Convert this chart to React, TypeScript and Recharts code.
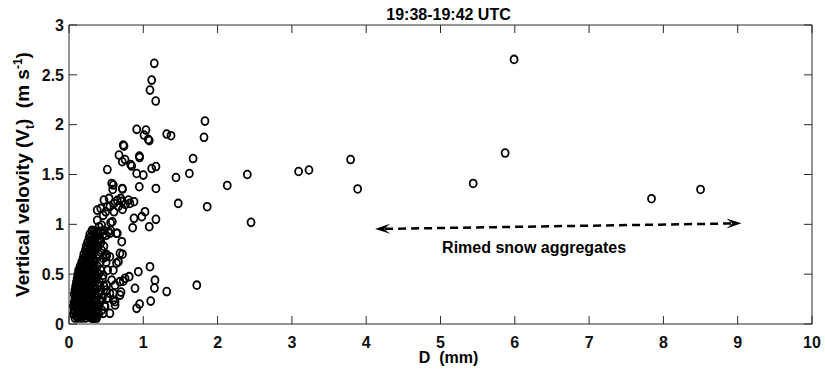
import React from 'react';
import {
  ReferenceDot,
  ReferenceLine,
  Scatter,
  ScatterChart,
  XAxis,
  YAxis,
} from 'recharts';

type Pt = [number, number];

const X_TICKS = [0, 1, 2, 3, 4, 5, 6, 7, 8, 9, 10];
const Y_TICKS = [0, 0.5, 1, 1.5, 2, 2.5, 3];

// large, isolated particles (rimed aggregates)
const outerPoints: Pt[] = [
  [2.13, 1.39], [2.4, 1.5], [2.45, 1.02], [3.09, 1.53], [3.23, 1.545],
  [3.79, 1.65], [3.885, 1.355], [5.44, 1.41], [5.87, 1.715], [5.99, 2.655],
  [7.84, 1.257], [8.5, 1.35],
];

// 0.7 - 2 mm
const midPoints: Pt[] = [
  [1.148, 2.615], [1.113, 2.447], [1.09, 2.347], [1.167, 2.237], [1.83, 2.036],
  [1.817, 1.873], [0.911, 1.953], [1.036, 1.946], [1.01, 1.896], [1.067, 1.852],
  [1.08, 1.84], [1.315, 1.906], [1.373, 1.889], [0.74, 1.785], [0.73, 1.795],
  [1.67, 1.66], [0.754, 1.65], [0.947, 1.685], [0.95, 1.67], [0.844, 1.585],
  [0.83, 1.6], [0.911, 1.51], [1.0, 1.494], [1.113, 1.56], [1.17, 1.58],
  [1.44, 1.47], [1.62, 1.51], [1.17, 1.36], [0.946, 1.377], [1.47, 1.21],
  [1.86, 1.177], [0.72, 1.354], [0.71, 1.23], [0.76, 1.2], [0.82, 1.21],
  [1.023, 1.127], [0.875, 1.06], [1.17, 1.05], [1.08, 0.976], [0.857, 0.966],
  [0.98, 1.077], [0.71, 0.826], [0.72, 0.7], [1.09, 0.575], [0.933, 0.525],
  [0.81, 0.475], [0.73, 0.43], [1.157, 0.44], [1.15, 0.36], [0.888, 0.358],
  [1.315, 0.325], [1.72, 0.39], [0.7, 0.32], [1.1, 0.23], [0.95, 0.2],
  [0.91, 0.157], [0.754, 0.458], [0.686, 0.425], [0.62, 0.39], [0.8, 1.244],
  [0.875, 1.227],
];

// 0.35 - 0.75 mm, ring region around the core
const ringPoints: Pt[] = [
  [0.673, 1.695], [0.717, 1.628], [0.516, 1.55], [0.575, 1.41], [0.588, 1.35],
  [0.596, 1.394], [0.717, 1.36], [0.47, 1.244], [0.54, 1.26], [0.65, 1.24],
  [0.695, 1.26], [0.38, 1.143], [0.427, 1.16], [0.515, 1.176], [0.494, 1.126],
  [0.606, 1.126], [0.583, 1.026], [0.38, 1.04], [0.404, 0.976], [0.55, 1.18],
  [0.606, 1.21], [0.665, 1.18], [0.72, 1.15], [0.46, 1.09], [0.44, 0.99],
  [0.56, 1.016], [0.53, 0.926], [0.65, 0.91], [0.55, 0.91], [0.64, 0.91],
  [0.5, 0.89], [0.686, 0.71], [0.64, 0.61], [0.596, 0.54], [0.507, 0.69],
  [0.55, 0.675], [0.5, 0.675], [0.665, 0.625], [0.395, 0.775], [0.417, 0.84],
  [0.37, 0.926], [0.55, 0.308], [0.596, 0.24], [0.55, 0.107], [0.62, 0.224],
  [0.62, 0.19], [0.686, 0.29], [0.596, 0.308], [0.507, 0.39], [0.575, 0.44],
  [0.46, 0.49], [0.417, 0.24], [0.485, 0.174], [0.46, 0.107], [0.37, 0.057],
  [0.327, 0.057], [0.372, 0.073], [0.336, 0.93], [0.31, 0.94], [0.47, 0.94],
  [0.56, 0.94],
];

// dense core, one row per velocity level
const coreRows: { v: number; d: number[] }[] = [
  { v: 0.06, d: [0.08, 0.12, 0.17, 0.22, 0.3, 0.35] },
  { v: 0.1, d: [0.06, 0.1, 0.14, 0.19, 0.24, 0.29, 0.33, 0.4] },
  { v: 0.14, d: [0.07, 0.11, 0.15, 0.2, 0.26, 0.31, 0.36, 0.44] },
  { v: 0.18, d: [0.06, 0.09, 0.13, 0.17, 0.22, 0.27, 0.33, 0.39, 0.48] },
  { v: 0.22, d: [0.07, 0.11, 0.15, 0.19, 0.24, 0.29, 0.35, 0.42] },
  { v: 0.26, d: [0.08, 0.12, 0.16, 0.21, 0.26, 0.31, 0.37, 0.45, 0.52] },
  { v: 0.3, d: [0.07, 0.1, 0.14, 0.18, 0.23, 0.28, 0.34, 0.4] },
  { v: 0.34, d: [0.08, 0.12, 0.16, 0.2, 0.25, 0.3, 0.36, 0.43, 0.5] },
  { v: 0.38, d: [0.09, 0.13, 0.17, 0.22, 0.27, 0.33, 0.39, 0.47] },
  { v: 0.42, d: [0.1, 0.14, 0.18, 0.23, 0.28, 0.35, 0.41] },
  { v: 0.46, d: [0.11, 0.15, 0.19, 0.24, 0.3, 0.37, 0.45] },
  { v: 0.5, d: [0.12, 0.16, 0.21, 0.26, 0.32, 0.4] },
  { v: 0.54, d: [0.13, 0.17, 0.22, 0.28, 0.35, 0.43, 0.52] },
  { v: 0.58, d: [0.15, 0.19, 0.25, 0.31, 0.38] },
  { v: 0.62, d: [0.17, 0.22, 0.28, 0.34, 0.42, 0.5] },
  { v: 0.66, d: [0.19, 0.24, 0.3, 0.37, 0.46] },
  { v: 0.7, d: [0.2, 0.26, 0.33, 0.4, 0.5] },
  { v: 0.74, d: [0.22, 0.28, 0.35, 0.44] },
  { v: 0.78, d: [0.23, 0.29, 0.37, 0.47] },
  { v: 0.82, d: [0.25, 0.31, 0.39, 0.43] },
  { v: 0.86, d: [0.27, 0.33, 0.41] },
  { v: 0.9, d: [0.28, 0.34, 0.4, 0.46] },
  { v: 0.93, d: [0.31, 0.37, 0.43] },
];

// in-between levels where the core is solid black
const coreFillRows: { v: number; d: number[] }[] = [
  { v: 0.08, d: [0.1, 0.15, 0.2, 0.26, 0.32] },
  { v: 0.12, d: [0.08, 0.12, 0.17, 0.22, 0.27, 0.31] },
  { v: 0.16, d: [0.09, 0.13, 0.18, 0.23, 0.28, 0.34] },
  { v: 0.2, d: [0.08, 0.11, 0.15, 0.2, 0.25, 0.31] },
  { v: 0.24, d: [0.09, 0.13, 0.17, 0.22, 0.27, 0.33] },
  { v: 0.28, d: [0.09, 0.12, 0.16, 0.2, 0.25, 0.3] },
  { v: 0.32, d: [0.09, 0.13, 0.18, 0.22, 0.27, 0.32] },
  { v: 0.36, d: [0.1, 0.14, 0.19, 0.24, 0.29, 0.34] },
  { v: 0.4, d: [0.11, 0.16, 0.2, 0.25, 0.31] },
  { v: 0.44, d: [0.12, 0.17, 0.21, 0.26, 0.32] },
  { v: 0.48, d: [0.13, 0.18, 0.23, 0.28, 0.34] },
  { v: 0.52, d: [0.14, 0.19, 0.24, 0.3] },
  { v: 0.56, d: [0.16, 0.21, 0.27, 0.33] },
  { v: 0.6, d: [0.18, 0.23, 0.29] },
  { v: 0.64, d: [0.2, 0.26, 0.32] },
  { v: 0.68, d: [0.22, 0.28] },
  { v: 0.72, d: [0.24, 0.3] },
  { v: 0.76, d: [0.25, 0.32] },
  { v: 0.8, d: [0.27, 0.33] },
  { v: 0.84, d: [0.29, 0.35] },
  { v: 0.88, d: [0.3, 0.36] },
];

// annotation arrow ends (mm, m/s)
const arrowStart = { x: 4.12, y: 0.953 };
const arrowEnd = { x: 9.05, y: 1.01 };

const INK = '#000';
const AXIS = '#2a2a2a';
const FONT = 'Arial, "Liberation Sans", Helvetica, sans-serif';

const points = [
  ...[...coreRows, ...coreFillRows].flatMap((row) => row.d.map((d) => ({ d, v: row.v }))),
  ...ringPoints.map(([d, v]) => ({ d, v })),
  ...midPoints.map(([d, v]) => ({ d, v })),
  ...outerPoints.map(([d, v]) => ({ d, v })),
];

function Ring(props: any) {
  const { cx, cy } = props;
  if (cx == null || cy == null) return null;
  return (
    <ellipse cx={cx} cy={cy} rx={3.5} ry={3.9} fill="none" stroke={INK} strokeWidth={1.8} />
  );
}

function arrowHead(tx: number, ty: number, ux: number, uy: number) {
  // ux, uy: unit vector pointing back from the tip
  const len = 15;
  const half = 5;
  const nx = -uy;
  const ny = ux;
  const bx = tx + ux * len;
  const by = ty + uy * len;
  const mx = tx + ux * len * 0.6;
  const my = ty + uy * len * 0.6;
  return `M${tx},${ty} L${bx + nx * half},${by + ny * half} L${mx},${my} L${bx - nx * half},${by - ny * half} Z`;
}

function DashedArrow(props: any) {
  const { x1, y1, x2, y2 } = props;
  if ([x1, y1, x2, y2].some((n) => n == null)) return null;
  const dx = x2 - x1;
  const dy = y2 - y1;
  const l = Math.hypot(dx, dy);
  const ux = dx / l;
  const uy = dy / l;
  return (
    <g>
      <line
        x1={x1 + ux * 10}
        y1={y1 + uy * 10}
        x2={x2 - ux * 10}
        y2={y2 - uy * 10}
        stroke={INK}
        strokeWidth={2.5}
        strokeDasharray="8 5"
      />
      <path d={arrowHead(x1, y1, ux, uy)} fill={INK} />
      <path d={arrowHead(x2, y2, -ux, -uy)} fill={INK} />
    </g>
  );
}

function TitleLabel({ viewBox }: any) {
  const x = viewBox.x + viewBox.width / 2 + 8;
  return (
    <text x={x} y={20} textAnchor="middle" fontFamily={FONT} fontSize={16} fontWeight="bold" fill={INK}>
      19:38-19:42 UTC
    </text>
  );
}

function XTitle({ viewBox }: any) {
  const x = viewBox.x + viewBox.width / 2 + 8;
  return (
    <text
      x={x}
      y={363}
      textAnchor="middle"
      fontFamily={FONT}
      fontSize={16}
      fontWeight="bold"
      fill={INK}
      style={{ whiteSpace: 'pre' }}
    >
      D  (mm)
    </text>
  );
}

function YTitle({ viewBox }: any) {
  const cy = viewBox.y + viewBox.height / 2;
  const x = 29;
  return (
    <text
      x={x}
      y={cy}
      transform={`rotate(-90, ${x}, ${cy})`}
      textAnchor="middle"
      fontFamily={FONT}
      fontSize={19}
      fontWeight="bold"
      fill={INK}
      style={{ whiteSpace: 'pre' }}
    >
      Vertical velovity (V
      <tspan dy={5} fontSize={12}>t</tspan>
      <tspan dy={-5}>)  (m s</tspan>
      <tspan dy={-7} fontSize={12}>-1</tspan>
      <tspan dy={7}>)</tspan>
    </text>
  );
}

export default function App() {
  const tickStyle = { fontSize: 16, fontWeight: 'bold', fill: '#111', fontFamily: FONT };
  return (
    <div style={{ position: 'absolute', left: 0, top: 0, width: 825, height: 377, background: '#fff' }}>
      <ScatterChart width={825} height={377} margin={{ top: 24, right: 12, bottom: 0, left: 0 }}>
        <XAxis
          type="number"
          dataKey="d"
          domain={[0, 10]}
          ticks={X_TICKS}
          interval={0}
          height={53}
          tickSize={-8}
          tickMargin={21}
          axisLine={{ stroke: AXIS }}
          tickLine={{ stroke: AXIS }}
          tick={tickStyle}
          label={<XTitle />}
        />
        <XAxis
          xAxisId="top"
          orientation="top"
          type="number"
          dataKey="d"
          domain={[0, 10]}
          ticks={X_TICKS}
          interval={0}
          height={1}
          tickSize={-8}
          tickFormatter={() => ''}
          axisLine={{ stroke: AXIS }}
          tickLine={{ stroke: AXIS }}
          label={<TitleLabel />}
        />
        <YAxis
          type="number"
          dataKey="v"
          domain={[0, 3]}
          ticks={Y_TICKS}
          interval={0}
          width={69}
          tickSize={-8}
          tickMargin={13}
          axisLine={{ stroke: AXIS }}
          tickLine={{ stroke: AXIS }}
          tick={tickStyle}
          label={<YTitle />}
        />
        <YAxis
          yAxisId="right"
          orientation="right"
          type="number"
          dataKey="v"
          domain={[0, 3]}
          ticks={Y_TICKS}
          interval={0}
          width={1}
          tickSize={-8}
          tickFormatter={() => ''}
          axisLine={{ stroke: AXIS }}
          tickLine={{ stroke: AXIS }}
        />
        <Scatter data={points} shape={<Ring />} isAnimationActive={false} />
        <Scatter
          xAxisId="top"
          yAxisId="right"
          data={points.slice(0, 1)}
          shape={() => <g />}
          isAnimationActive={false}
        />
        <ReferenceLine
          segment={[arrowStart, arrowEnd]}
          shape={<DashedArrow />}
          ifOverflow="visible"
        />
        <ReferenceDot
          x={6.26}
          y={0.77}
          r={0}
          fill="none"
          stroke="none"
          label={{
            value: 'Rimed snow aggregates',
            position: 'center',
            fontSize: 16,
            fontWeight: 'bold',
            fill: INK,
            fontFamily: FONT,
          }}
        />
      </ScatterChart>
    </div>
  );
}
